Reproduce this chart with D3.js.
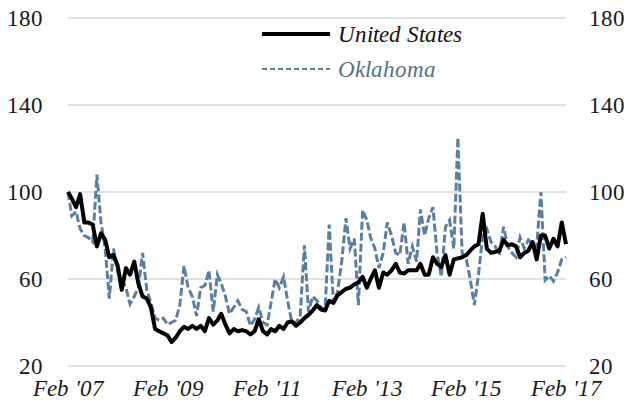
<html>
<head>
<meta charset="utf-8">
<script src="https://cdn.jsdelivr.net/npm/d3@7"></script>
<style>
  @font-face { font-family: 'ChartSerif'; src: local('Liberation Serif'), local('LiberationSerif'); font-style: normal; }
  @font-face { font-family: 'ChartSerif'; src: local('Liberation Serif Italic'), local('LiberationSerif-Italic'); font-style: italic; }
  body { margin: 0; }
  #chart text { font-family: 'ChartSerif', 'Liberation Serif', 'Times New Roman', serif; }
</style>
</head>
<body>
<div id="chart"></div>
<script>
// monthly index values, Feb 2007 = 100
const START_YEAR = 2007;
const START_MONTH = 1; // February

const unitedStates = [
  100, 97, 93, 99, 86, 86, 85, 75, 81, 78, 70, 71, 66, 55, 65, 62, 68, 58, 52, 51,
  47, 37, 36, 35, 34, 31, 33, 36, 38, 37, 38.5, 37, 38.5, 36, 42, 39, 41, 44, 39, 35,
  37, 36, 36.5, 36, 34.5, 36, 41.5, 36, 34.5, 37, 36, 38.5, 37, 40, 40.5, 38.5, 40, 42, 43.5, 45.5,
  48, 46, 45.5, 50, 49, 52.5, 54, 55.5, 56, 57.5, 58.5, 61, 56, 60, 64, 56, 63, 62, 64, 67,
  63, 62.5, 64, 64, 64, 67, 62, 62, 70, 67, 65.5, 71, 62, 69, 69.5, 70, 71, 73, 75, 76,
  90, 74, 72, 72.5, 73, 78, 75.5, 76, 75, 70, 72, 73, 77, 69, 80, 80, 74, 78.5, 75, 86,
  76
];

const oklahoma = [
  100, 89, 91, 83, 80, 79, 77, 108, 86, 74, 51, 74, 63, 60, 56, 48.5, 52, 56, 72, 55,
  49, 42, 41, 42, 39, 40, 41, 48, 66, 56, 52, 43, 56, 57, 64, 45, 62, 58, 52, 44,
  47, 50, 46, 45, 38.5, 41.5, 47, 40, 39, 49, 60, 56, 61, 50, 40, 40, 43, 75.5, 45, 52,
  50, 47, 46, 85, 49, 54, 68, 88, 74, 78.6, 48, 91.7, 87, 79, 74, 65, 72, 86, 80, 72,
  71, 86, 67, 75, 68, 92, 80, 88, 93, 72, 61, 84, 87, 74, 125, 72, 69, 60, 48, 62,
  80, 83, 77, 75, 71, 84, 75, 72, 70, 79, 74, 78, 76, 75, 100, 59.5, 61.5, 59, 63, 69,
  70
];

const yTicks = [20, 60, 100, 140, 180];
const xTickYears = [2007, 2009, 2011, 2013, 2015, 2017];
const xTickLabels = ["Feb '07", "Feb '09", "Feb '11", "Feb '13", "Feb '15", "Feb '17"];

const seriesNames = ['United States', 'Oklahoma'];

const width = 629;
const height = 408;
const BLUE = '#5b7fa3';

const dates = unitedStates.map((_, i) => new Date(START_YEAR, START_MONTH + i, 1));

const x = d3.scaleTime()
  .domain([dates[0], dates[dates.length - 1]])
  .range([68, 566]);

const y = d3.scaleLinear()
  .domain([20, 180])
  .range([366, 18]);

const svg = d3.select('#chart')
  .append('svg')
  .attr('width', width)
  .attr('height', height)
  .style('display', 'block');

// gridlines
svg.append('g')
  .selectAll('line')
  .data(yTicks)
  .join('line')
  .attr('x1', x.range()[0])
  .attr('x2', x.range()[1])
  .attr('y1', d => y(d))
  .attr('y2', d => y(d))
  .attr('stroke', '#d9d9d9')
  .attr('stroke-width', 1.5);

// left + right axis labels
const leftAxis = d3.axisLeft(y).tickValues(yTicks).tickSize(0).tickPadding(0);
const rightAxis = d3.axisRight(y).tickValues(yTicks).tickSize(0).tickPadding(0);

svg.append('g')
  .attr('transform', 'translate(43,0)')
  .call(leftAxis);

svg.append('g')
  .attr('transform', 'translate(589,0)')
  .call(rightAxis);

// x labels
const xAxis = d3.axisBottom(x)
  .tickValues(xTickYears.map(yr => new Date(yr, START_MONTH, 1)))
  .tickFormat((d, i) => xTickLabels[i])
  .tickSize(0)
  .tickPadding(0);

svg.append('g')
  .attr('class', 'x-axis')
  .attr('transform', 'translate(0,380)')
  .call(xAxis);

svg.selectAll('.domain').remove();
svg.selectAll('g').attr('font-family', null);
svg.selectAll('.tick text')
  .attr('font-size', 23)
  .attr('fill', '#1a1a1a');
svg.selectAll('.x-axis .tick text').attr('font-style', 'italic');

const line = d3.line()
  .x((d, i) => x(dates[i]))
  .y(d => y(d));

svg.append('path')
  .datum(oklahoma)
  .attr('d', line)
  .attr('fill', 'none')
  .attr('stroke', BLUE)
  .attr('stroke-width', 3)
  .attr('stroke-dasharray', '8,3');

svg.append('path')
  .datum(unitedStates)
  .attr('d', line)
  .attr('fill', 'none')
  .attr('stroke', '#000')
  .attr('stroke-width', 4)
  .attr('stroke-linejoin', 'round');

// legend
const legend = svg.append('g');
const legendItems = [
  { name: seriesNames[0], color: '#000', width: 4, dash: null, text: '#111', y: 34 },
  { name: seriesNames[1], color: BLUE, width: 2, dash: '5,3', text: '#56708c', y: 69 },
];
legendItems.forEach(d => {
  legend.append('line')
    .attr('x1', 262).attr('x2', 330)
    .attr('y1', d.y).attr('y2', d.y)
    .attr('stroke', d.color)
    .attr('stroke-width', d.width)
    .attr('stroke-dasharray', d.dash);
  legend.append('text')
    .attr('x', 338)
    .attr('y', d.y)
    .attr('dy', '0.35em')
    .attr('font-style', 'italic')
    .attr('font-size', 23)
    .attr('fill', d.text)
    .text(d.name);
});
</script>
</body>
</html>
